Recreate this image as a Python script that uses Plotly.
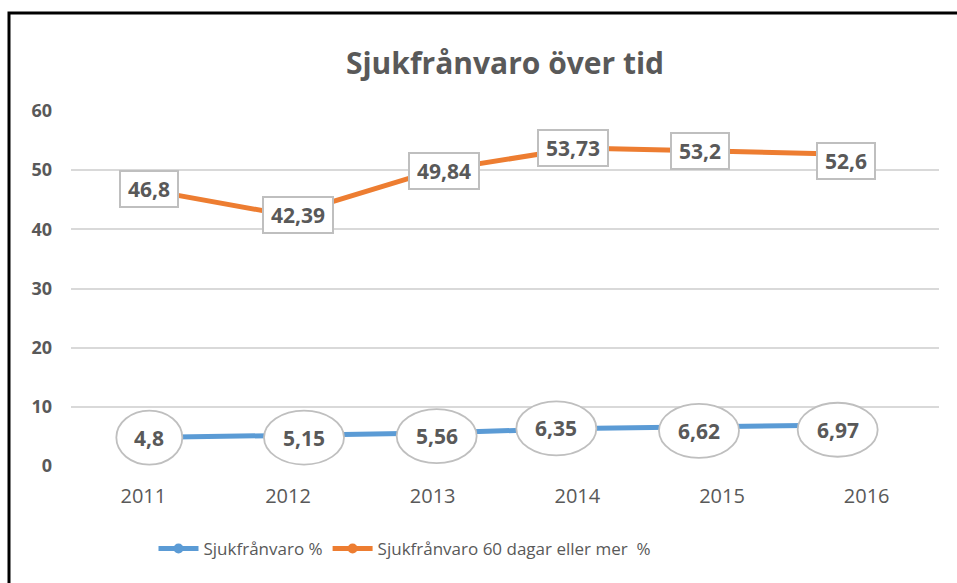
import plotly.graph_objects as go

years = ["2011", "2012", "2013", "2014", "2015", "2016"]
sjuk = [4.8, 5.15, 5.56, 6.35, 6.62, 6.97]
sjuk60 = [46.8, 42.39, 49.84, 53.73, 53.2, 52.6]
sjuk_labels = ["4,8", "5,15", "5,56", "6,35", "6,62", "6,97"]
sjuk60_labels = ["46,8", "42,39", "49,84", "53,73", "53,2", "52,6"]
name1 = "Sjukfrånvaro %"
name2 = "Sjukfrånvaro 60 dagar eller mer  %"
title = "Sjukfrånvaro över tid"
yticks = [0, 10, 20, 30, 40, 50, 60]

# label placement nudges (pixels, style only): right +, up +
sjuk_dx = [6, 16, 4, -21, -23, -29]
sjuk_dy = [0, -2, -3, 0, -4, -5]
sjuk60_dx = [6, 10, 11, -4, -22, -21]
sjuk60_dy = [0, 0, 0, 0, 0, -6]

BLUE = "#5B9BD5"
ORANGE = "#ED7D31"
TXT = "#595959"
FONT = "Open Sans"

xpos = list(range(len(years)))

fig = go.Figure()
fig.add_trace(go.Scatter(x=xpos, y=sjuk, name=name1, mode="lines+markers",
                         line=dict(color=BLUE, width=5), marker=dict(size=10, color=BLUE)))
fig.add_trace(go.Scatter(x=xpos, y=sjuk60, name=name2, mode="lines+markers",
                         line=dict(color=ORANGE, width=5), marker=dict(size=10, color=ORANGE)))

shapes = []
annotations = []
for x, v, t, dx, dy in zip(xpos, sjuk, sjuk_labels, sjuk_dx, sjuk_dy):
    w = 24 + 14 * len(t)
    shapes.append(dict(type="circle", xref="x", yref="y", xsizemode="pixel", ysizemode="pixel",
                       xanchor=x, yanchor=v, x0=dx - w / 2, x1=dx + w / 2, y0=dy - 27, y1=dy + 27,
                       fillcolor="white", line=dict(color="#BFBFBF", width=1.8), layer="above"))
    annotations.append(dict(x=x, y=v, xref="x", yref="y", text=t, showarrow=False,
                            xshift=dx, yshift=dy,
                            font=dict(family=FONT, size=21, color=TXT, weight="bold")))
for x, v, t, dx, dy in zip(xpos, sjuk60, sjuk60_labels, sjuk60_dx, sjuk60_dy):
    annotations.append(dict(x=x, y=v, xref="x", yref="y", text=t, showarrow=False,
                            xshift=dx, yshift=dy, width=round(12.4 * len(t)),
                            font=dict(family=FONT, size=21, color=TXT, weight="bold"), bgcolor="white",
                            bordercolor="#BFBFBF", borderwidth=2, borderpad=3))

# outer black frame
shapes.append(dict(type="rect", xref="paper", yref="paper", x0=(9 - 71) / 868, x1=1.2,
                   y0=-0.5, y1=(466 - 13) / 355, line=dict(color="black", width=3),
                   fillcolor="rgba(0,0,0,0)", layer="above"))

fig.update_layout(
    width=957, height=583,
    margin=dict(l=71, r=18, t=111, b=117),
    paper_bgcolor="white", plot_bgcolor="white",
    title=dict(text=title, x=505 / 957, xanchor="center", y=1 - 63 / 583,
               yanchor="middle", font=dict(family=FONT, size=30, color=TXT, weight="bold")),
    showlegend=True,
    legend=dict(orientation="h", x=(405 - 71) / 868, xanchor="center", y=(466 - 549) / 355,
                yanchor="middle", font=dict(family=FONT, size=17, color=TXT), itemwidth=40),
    shapes=shapes, annotations=annotations,
)
fig.update_xaxes(tickmode="array", tickvals=xpos, ticktext=years, showgrid=False, zeroline=False,
                 showline=False, tickfont=dict(family=FONT, size=20, color=TXT), ticklabelstandoff=16,
                 range=[-0.5, 5.5])
fig.update_yaxes(range=[0, 60], tickvals=yticks, showgrid=True, gridcolor="#D9D9D9", gridwidth=1.5,
                 zeroline=False, showline=False, ticklabelstandoff=18,
                 tickfont=dict(family=FONT, size=18, color=TXT, weight="bold"))

fig.write_html("out.html", config={"displayModeBar": False},
               post_script="document.body.style.margin='0';document.body.style.overflow='hidden';")
